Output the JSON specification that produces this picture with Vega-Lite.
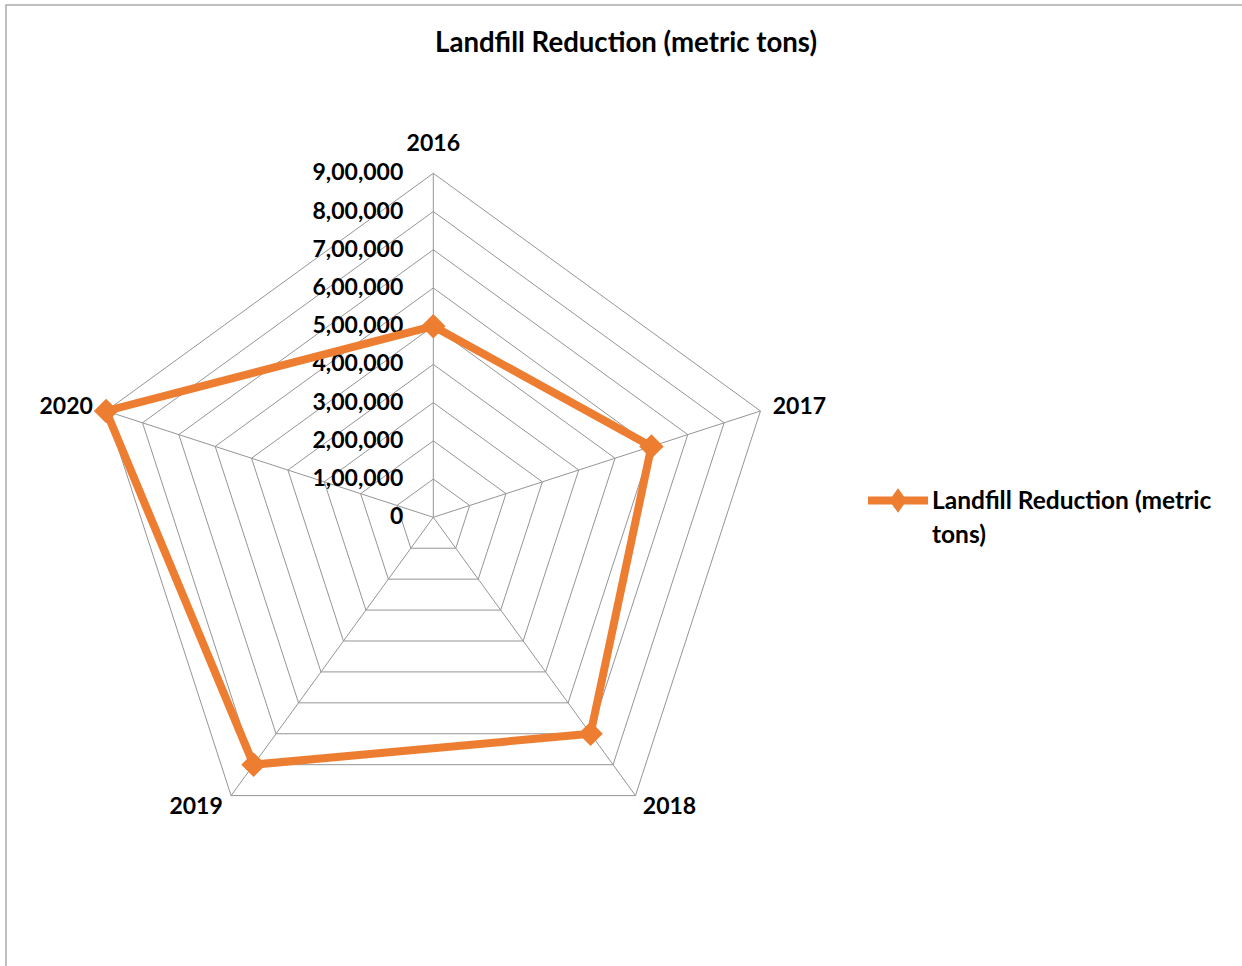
{
  "$schema": "https://vega.github.io/schema/vega-lite/v6.json",
  "width": 1240,
  "height": 965,
  "autosize": {"type": "none"},
  "padding": {"left": 6, "top": 5, "right": -4, "bottom": -4},
  "background": "white",
  "config": {
    "view": {"stroke": "#ababab", "strokeWidth": 1.5},
    "font": "Lato",
    "style": {"guide-label": {"lineHeight": 34}}
  },
  "title": {
    "text": "Landfill Reduction (metric tons)",
    "font": "Lato",
    "fontSize": 27.6,
    "fontWeight": "bold",
    "color": "#000000",
    "anchor": "middle",
    "frame": "group",
    "baseline": "middle",
    "offset": -67
  },
  "datasets": {
    "radar": [
      {"year": "2016", "value": 500000, "series": "Landfill Reduction (metric tons)"},
      {"year": "2017", "value": 600000, "series": "Landfill Reduction (metric tons)"},
      {"year": "2018", "value": 700000, "series": "Landfill Reduction (metric tons)"},
      {"year": "2019", "value": 800000, "series": "Landfill Reduction (metric tons)"},
      {"year": "2020", "value": 900000, "series": "Landfill Reduction (metric tons)"}
    ],
    "grid": [
      {"level": 0},
      {"level": 100000},
      {"level": 200000},
      {"level": 300000},
      {"level": 400000},
      {"level": 500000},
      {"level": 600000},
      {"level": 700000},
      {"level": 800000},
      {"level": 900000}
    ]
  },
  "layer": [
    {
      "data": {"name": "grid"},
      "transform": [
        {"filter": "datum.level > 0"},
        {"calculate": "['2016','2017','2018','2019','2020']", "as": "year"},
        {"flatten": ["year"]},
        {"calculate": "(toNumber(datum.year) - 2016) * 2 * PI / 5", "as": "theta"},
        {"calculate": "datum.level * sin(datum.theta)", "as": "gx"},
        {"calculate": "datum.level * cos(datum.theta)", "as": "gy"}
      ],
      "mark": {"type": "line", "interpolate": "linear-closed", "stroke": "#959595", "strokeWidth": 1},
      "encoding": {
        "x": {"field": "gx", "type": "quantitative", "scale": {"domain": [-1117936, 2126250], "nice": false, "zero": false}, "axis": null},
        "y": {"field": "gy", "type": "quantitative", "scale": {"domain": [-1184390, 1340320], "nice": false, "zero": false}, "axis": null},
        "detail": {"field": "level", "type": "nominal"},
        "order": {"field": "year", "type": "ordinal"}
      }
    },
    {
      "data": {"name": "radar"},
      "transform": [
        {"calculate": "(toNumber(datum.year) - 2016) * 2 * PI / 5", "as": "theta"},
        {"calculate": "0", "as": "cx"},
        {"calculate": "0", "as": "cy"},
        {"calculate": "900000 * sin(datum.theta)", "as": "sx"},
        {"calculate": "900000 * cos(datum.theta)", "as": "sy"}
      ],
      "mark": {"type": "rule", "stroke": "#959595", "strokeWidth": 1},
      "encoding": {
        "x": {"field": "cx", "type": "quantitative", "scale": {"domain": [-1117936, 2126250], "nice": false, "zero": false}, "axis": null},
        "y": {"field": "cy", "type": "quantitative", "scale": {"domain": [-1184390, 1340320], "nice": false, "zero": false}, "axis": null},
        "x2": {"field": "sx"},
        "y2": {"field": "sy"}
      }
    },
    {
      "data": {"name": "grid"},
      "transform": [
        {"calculate": "0", "as": "cx"},
        {"calculate": "datum.level == 0 ? '0' : format(datum.level / 100000, 'd') + ',00,000'", "as": "label"}
      ],
      "mark": {"type": "text", "align": "right", "baseline": "middle", "dx": -30, "font": "Lato", "fontSize": 23, "fontWeight": "bold", "color": "#000000"},
      "encoding": {
        "x": {"field": "cx", "type": "quantitative", "scale": {"domain": [-1117936, 2126250], "nice": false, "zero": false}, "axis": null},
        "y": {"field": "level", "type": "quantitative", "scale": {"domain": [-1184390, 1340320], "nice": false, "zero": false}, "axis": null},
        "text": {"field": "label", "type": "nominal"}
      }
    },
    {
      "data": {"name": "radar"},
      "transform": [
        {"filter": "datum.year == '2016'"},
        {"calculate": "(toNumber(datum.year) - 2016) * 2 * PI / 5", "as": "theta"},
        {"calculate": "900000 * sin(datum.theta)", "as": "lx"},
        {"calculate": "900000 * cos(datum.theta)", "as": "ly"}
      ],
      "mark": {"type": "text", "align": "center", "baseline": "middle", "dy": -29, "font": "Lato", "fontSize": 23, "fontWeight": "bold", "color": "#000000"},
      "encoding": {
        "x": {"field": "lx", "type": "quantitative", "scale": {"domain": [-1117936, 2126250], "nice": false, "zero": false}, "axis": null},
        "y": {"field": "ly", "type": "quantitative", "scale": {"domain": [-1184390, 1340320], "nice": false, "zero": false}, "axis": null},
        "text": {"field": "year", "type": "nominal"}
      }
    },
    {
      "data": {"name": "radar"},
      "transform": [
        {"filter": "datum.year == '2017'"},
        {"calculate": "(toNumber(datum.year) - 2016) * 2 * PI / 5", "as": "theta"},
        {"calculate": "900000 * sin(datum.theta)", "as": "lx"},
        {"calculate": "900000 * cos(datum.theta)", "as": "ly"}
      ],
      "mark": {"type": "text", "align": "center", "baseline": "middle", "dx": 39, "dy": -4, "font": "Lato", "fontSize": 23, "fontWeight": "bold", "color": "#000000"},
      "encoding": {
        "x": {"field": "lx", "type": "quantitative", "scale": {"domain": [-1117936, 2126250], "nice": false, "zero": false}, "axis": null},
        "y": {"field": "ly", "type": "quantitative", "scale": {"domain": [-1184390, 1340320], "nice": false, "zero": false}, "axis": null},
        "text": {"field": "year", "type": "nominal"}
      }
    },
    {
      "data": {"name": "radar"},
      "transform": [
        {"filter": "datum.year == '2018'"},
        {"calculate": "(toNumber(datum.year) - 2016) * 2 * PI / 5", "as": "theta"},
        {"calculate": "900000 * sin(datum.theta)", "as": "lx"},
        {"calculate": "900000 * cos(datum.theta)", "as": "ly"}
      ],
      "mark": {"type": "text", "align": "center", "baseline": "middle", "dx": 34, "dy": 11, "font": "Lato", "fontSize": 23, "fontWeight": "bold", "color": "#000000"},
      "encoding": {
        "x": {"field": "lx", "type": "quantitative", "scale": {"domain": [-1117936, 2126250], "nice": false, "zero": false}, "axis": null},
        "y": {"field": "ly", "type": "quantitative", "scale": {"domain": [-1184390, 1340320], "nice": false, "zero": false}, "axis": null},
        "text": {"field": "year", "type": "nominal"}
      }
    },
    {
      "data": {"name": "radar"},
      "transform": [
        {"filter": "datum.year == '2019'"},
        {"calculate": "(toNumber(datum.year) - 2016) * 2 * PI / 5", "as": "theta"},
        {"calculate": "900000 * sin(datum.theta)", "as": "lx"},
        {"calculate": "900000 * cos(datum.theta)", "as": "ly"}
      ],
      "mark": {"type": "text", "align": "center", "baseline": "middle", "dx": -35, "dy": 11, "font": "Lato", "fontSize": 23, "fontWeight": "bold", "color": "#000000"},
      "encoding": {
        "x": {"field": "lx", "type": "quantitative", "scale": {"domain": [-1117936, 2126250], "nice": false, "zero": false}, "axis": null},
        "y": {"field": "ly", "type": "quantitative", "scale": {"domain": [-1184390, 1340320], "nice": false, "zero": false}, "axis": null},
        "text": {"field": "year", "type": "nominal"}
      }
    },
    {
      "data": {"name": "radar"},
      "transform": [
        {"filter": "datum.year == '2020'"},
        {"calculate": "(toNumber(datum.year) - 2016) * 2 * PI / 5", "as": "theta"},
        {"calculate": "900000 * sin(datum.theta)", "as": "lx"},
        {"calculate": "900000 * cos(datum.theta)", "as": "ly"}
      ],
      "mark": {"type": "text", "align": "center", "baseline": "middle", "dx": -40, "dy": -4, "font": "Lato", "fontSize": 23, "fontWeight": "bold", "color": "#000000"},
      "encoding": {
        "x": {"field": "lx", "type": "quantitative", "scale": {"domain": [-1117936, 2126250], "nice": false, "zero": false}, "axis": null},
        "y": {"field": "ly", "type": "quantitative", "scale": {"domain": [-1184390, 1340320], "nice": false, "zero": false}, "axis": null},
        "text": {"field": "year", "type": "nominal"}
      }
    },
    {
      "data": {"name": "radar"},
      "transform": [
        {"calculate": "(toNumber(datum.year) - 2016) * 2 * PI / 5", "as": "theta"},
        {"calculate": "datum.value * sin(datum.theta)", "as": "px"},
        {"calculate": "datum.value * cos(datum.theta)", "as": "py"}
      ],
      "mark": {"type": "line", "interpolate": "linear-closed", "strokeWidth": 8, "strokeJoin": "round"},
      "encoding": {
        "x": {"field": "px", "type": "quantitative", "scale": {"domain": [-1117936, 2126250], "nice": false, "zero": false}, "axis": null},
        "y": {"field": "py", "type": "quantitative", "scale": {"domain": [-1184390, 1340320], "nice": false, "zero": false}, "axis": null},
        "order": {"field": "year", "type": "ordinal"},
        "color": {
          "field": "series",
          "type": "nominal",
          "scale": {"range": ["#ED7D31"]},
          "legend": {
            "orient": "none",
            "legendX": 858,
            "legendY": 451,
            "title": null,
            "padding": 0,
            "symbolType": "M-1,0.35H1M-0.13,0.35L0,0.17L0.13,0.35L0,0.53Z",
            "symbolSize": 3600,
            "symbolStrokeWidth": 8,
            "symbolFillColor": "#ED7D31",
            "symbolStrokeColor": "#ED7D31",
            "labelFont": "Lato",
            "labelFontSize": 24.5,
            "labelFontWeight": "bold",
            "labelColor": "#000000",
            "labelLimit": 500,
            "labelOffset": 0,
            "labelBaseline": "top",
            "labelExpr": "['Landfill Reduction (metric', 'tons)']"
          }
        }
      }
    },
    {
      "data": {"name": "radar"},
      "transform": [
        {"calculate": "(toNumber(datum.year) - 2016) * 2 * PI / 5", "as": "theta"},
        {"calculate": "datum.value * sin(datum.theta)", "as": "px"},
        {"calculate": "datum.value * cos(datum.theta)", "as": "py"}
      ],
      "mark": {"type": "point", "shape": "diamond", "filled": true, "size": 600, "color": "#ED7D31", "opacity": 1},
      "encoding": {
        "x": {"field": "px", "type": "quantitative", "scale": {"domain": [-1117936, 2126250], "nice": false, "zero": false}, "axis": null},
        "y": {"field": "py", "type": "quantitative", "scale": {"domain": [-1184390, 1340320], "nice": false, "zero": false}, "axis": null}
      }
    }
  ]
}
